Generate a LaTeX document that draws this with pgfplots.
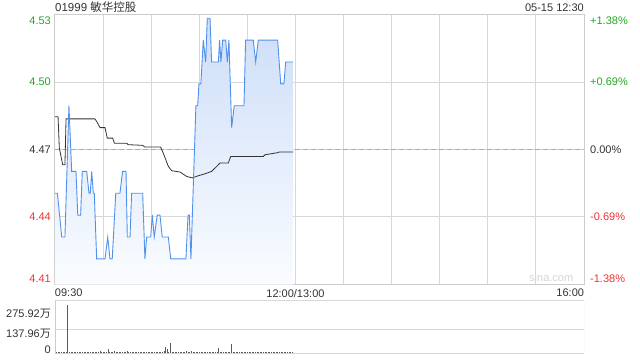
\documentclass[border=0pt]{standalone}
\usepackage{pgfplots}
\pgfplotsset{compat=1.18}
\usepackage{pgfplotstable}
\usepackage{fontspec}
\setmainfont{Liberation Sans}
\newfontfamily\cjk{Noto Sans CJK SC}
\definecolor{upg}{RGB}{34,168,34}
\definecolor{dnr}{RGB}{240,50,50}
\definecolor{txt}{RGB}{51,51,51}
\definecolor{gridc}{RGB}{204,204,204}
\definecolor{gridd}{RGB}{216,216,216}
\definecolor{pline}{RGB}{80,145,235}
\definecolor{ftop}{RGB}{205,222,248}
\definecolor{fbot}{RGB}{250,252,255}
\definecolor{volc}{RGB}{90,90,90}
\newcommand\f{\fontsize{11bp}{13bp}\selectfont}

\pgfplotstableread{
m p
0 4.45
1.5 4.45
4.2 4.43
6.2 4.43
8.7 4.49
10.4 4.46
13.1 4.46
14.2 4.44
16.0 4.44
17.0 4.46
19.8 4.46
21.2 4.45
22.0 4.45
22.9 4.46
23.9 4.45
24.5 4.45
26.0 4.42
31.2 4.42
32.9 4.43
34.3 4.42
35.7 4.42
37.9 4.45
40.5 4.45
42.2 4.46
44.3 4.46
45.1 4.43
46.8 4.43
47.8 4.45
54.7 4.45
56.1 4.42
57.2 4.43
59.7 4.43
60.7 4.44
61.9 4.43
63.8 4.44
65.5 4.44
66.9 4.43
70.7 4.43
72.2 4.42
81.7 4.42
83.0 4.44
83.8 4.44
84.8 4.42
87.9 4.49
89.0 4.49
89.8 4.50
91.0 4.50
92.5 4.52
94.0 4.51
95.0 4.53
96.7 4.53
97.7 4.51
101.9 4.51
102.7 4.52
103.5 4.51
104.6 4.52
106.5 4.52
107.5 4.51
108.5 4.52
110.2 4.48
111.8 4.49
117.9 4.49
118.9 4.52
123.7 4.52
125.2 4.51
126.8 4.52
138.9 4.52
140.8 4.50
142.8 4.50
143.9 4.51
148.6 4.51
}\price

\pgfplotstableread{
m a
0 4.485
1.9 4.485
2.7 4.4707
4.8 4.463
6.2 4.463
6.9 4.484
24.9 4.484
26.0 4.4828
28.1 4.480
31.2 4.480
32.6 4.4752
36.0 4.4752
37.0 4.4729
44.7 4.4729
45.7 4.4722
54.7 4.4719
56.1 4.4711
65.9 4.4711
67.5 4.4684
70.7 4.4623
72.8 4.4603
78.0 4.4597
82.1 4.4577
85.6 4.4570
89.4 4.4580
93.6 4.4589
97.7 4.4600
100.9 4.4623
102.9 4.4638
108.1 4.4638
109.6 4.4668
129.9 4.4668
131.0 4.4676
139.3 4.4686
139.9 4.4689
148.6 4.4689
}\avgp

\pgfplotstableread{
m v
0 8
1 6
2 7
3 5
4 8
5 6
6 7
7 9
8 275.92
9 6
10 5
11 8
12 6
13 5
14 7
15 6
16 8
17 6
18 5
19 7
20 6
21 7
22 5
23 8
24 6
25 5
26 7
27 8
28 12
29 6
30 5
31 8
32 9
33 22
34 6
35 8
36 10
37 13
38 7
39 6
40 9
41 6
42 8
43 5
44 6
45 12
46 6
47 5
48 7
49 8
50 5
51 6
52 5
53 7
54 8
55 6
56 5
57 7
58 8
59 6
60 5
61 7
62 8
63 6
64 5
65 7
66 8
67 9
68 12
69 36
70 24
71 9
72 62
73 10
74 8
75 6
76 5
77 7
78 5
79 6
80 8
81 6
82 15
83 7
84 9
85 15
86 8
87 7
88 6
89 8
90 10
91 6
92 7
93 6
94 5
95 6
96 7
97 6
98 5
99 6
100 8
101 6
102 33
103 6
104 5
105 7
106 6
107 5
108 6
109 7
110 53
111 6
112 7
113 6
114 5
115 6
116 5
117 6
118 7
119 6
120 5
121 6
122 5
123 6
124 5
125 6
126 5
127 6
128 5
129 6
130 5
131 6
132 5
133 6
134 5
135 6
136 5
137 6
138 7
139 6
140 10
141 6
142 5
143 6
144 5
145 6
146 5
147 6
148 5
}\vol

\begin{document}
\begin{tikzpicture}
\useasboundingbox (0bp,0bp) rectangle (640bp,-360bp);
% title and time stamp
\node[anchor=base west, inner sep=0pt, text=txt, font=\fontsize{11.5bp}{13bp}\selectfont] at (55bp,-11bp) {01999 {\cjk 敏华控股}};
\node[anchor=base east, inner sep=0pt, text=txt, font=\f] at (584bp,-11.5bp) {05-15 12:30};

% main price axis (left labels)
\begin{axis}[name=main, at={(55bp,-14.5bp)}, anchor=north west,
  scale only axis, width=529bp, height=270bp,
  xmin=0, xmax=330, ymin=4.4083, ymax=4.5317,
  xtick={0,30,...,330},
  xticklabels={\makebox[0pt][l]{09:30},,,,,12:00/13:00,,,,,,\makebox[0pt][r]{16:00}},
  ytick={4.4083,4.4392,4.47,4.5008,4.5317},
  yticklabels={\raisebox{2bp}[0pt][0pt]{\color{dnr}4.41},\color{dnr}4.44,\color{txt}4.47,\color{upg}4.50,\raisebox{-10bp}[0pt][0pt]{\color{upg}4.53}},
  xmajorgrids=true, ymajorgrids=true,
  major grid style={gridd, solid, line width=1bp},
  axis line style={gridc, line width=1bp},
  major tick length=0pt,
  tick label style={font=\f, text=txt},
  xticklabel style={inner sep=0pt, yshift=-4.5bp},
  yticklabel style={inner sep=0pt, xshift=-4bp},
  extra y ticks={4.47}, extra y tick labels={},
  extra y tick style={major grid style={gray!65, dash pattern=on 5bp off 3bp, line width=0.9bp}},
]
\addplot[draw=none, top color=ftop, bottom color=fbot] table[x=m, y=p] {\price} -- (axis cs:148.6,4.4083) -- (axis cs:0,4.4083) -- cycle;
\addplot[txt, line width=0.8bp] table[x=m, y=a] {\avgp};
\addplot[pline, line width=0.9bp] table[x=m, y=p] {\price};
\node[anchor=base east, inner sep=0pt, text=gridc!85, font=\f] at (rel axis cs:0.98,0.011) {sina.com};
\end{axis}

% right percentage labels
\begin{axis}[at={(55bp,-14.5bp)}, anchor=north west,
  scale only axis, width=529bp, height=270bp,
  xmin=0, xmax=330, ymin=4.4083, ymax=4.5317,
  axis x line=none, axis y line*=right, axis line style={draw=none},
  major tick length=0pt,
  ytick={4.4083,4.4392,4.47,4.5008,4.5317},
  yticklabels={\raisebox{2bp}[0pt][0pt]{\color{dnr}-1.38\%},\color{dnr}-0.69\%,\color{txt}0.00\%,\color{upg}+0.69\%,\raisebox{-10bp}[0pt][0pt]{\color{upg}+1.38\%}},
  tick label style={font=\f, text=txt},
  yticklabel style={inner sep=0pt, xshift=6bp, anchor=west},
]
\addplot[draw=none] coordinates {(0,4.47)};
\end{axis}

% volume axis
\begin{axis}[at={(55bp,-300.7bp)}, anchor=north west,
  scale only axis, width=529bp, height=52.6bp,
  xmin=0, xmax=330, ymin=0, ymax=302.4,
  axis line style={draw=none},
  xtick=\empty,
  ytick={0,137.96,275.92},
  yticklabels={\raisebox{-0.6bp}[0pt][0pt]{0},\raisebox{-8bp}[0pt][0pt]{137.96{\cjk 万}},\raisebox{-12bp}[0pt][0pt]{275.92{\cjk 万}}},
  major tick length=0pt,
  tick label style={font=\f, text=txt},
  yticklabel style={inner sep=0pt, xshift=-4bp},
  grid style={gridd, solid, line width=1bp},
  extra y ticks={0,137.96,302.4}, extra y tick labels={},
  extra y tick style={grid=major},
]
\addplot[ycomb, volc, line width=0.7bp] table[x=m, y=v] {\vol};
\draw[gridc, line width=1bp] (rel axis cs:0,0) -- (rel axis cs:0,1);
\draw[gridc, line width=1bp] (rel axis cs:1,0) -- (rel axis cs:1,1);
\end{axis}
\end{tikzpicture}
\end{document}
